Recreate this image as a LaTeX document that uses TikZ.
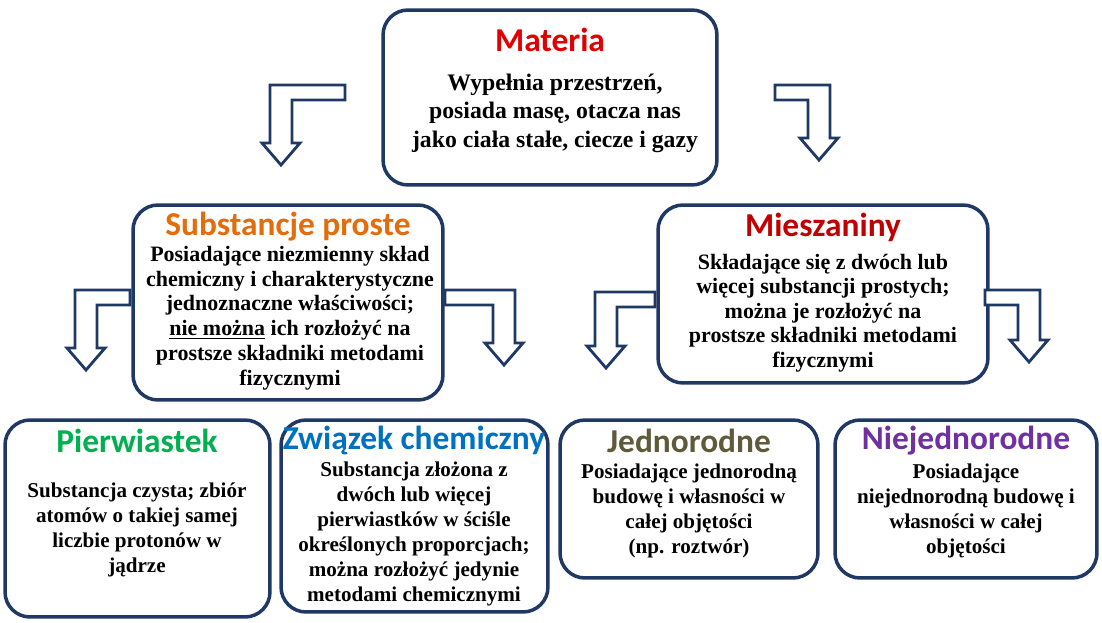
\documentclass[tikz,border=0pt]{standalone}
\usepackage{fontspec}
\setmainfont{Liberation Serif}
\newfontfamily\titlefont{Carlito}
\usetikzlibrary{positioning}
\definecolor{frame}{HTML}{1F3864}
\definecolor{cmat}{HTML}{E00000}
\definecolor{csub}{HTML}{E46C0A}
\definecolor{cmie}{HTML}{C00000}
\definecolor{cpie}{HTML}{00B050}
\definecolor{czwi}{HTML}{0070C0}
\definecolor{cjed}{HTML}{5F5A3A}
\definecolor{cnie}{HTML}{7030A0}
% hollow bent arrow: start x, corner x, top y, tip y, direction (1 left, -1 right)
\newcommand\hollowarrow[5]{%
  \draw[frame, line width=1.6pt, fill=white, line join=miter]
    (#1,#3) -- (#2,#3) -- (#2,{#4-22}) -- ({#2-8*#5},{#4-22}) -- ({#2+11*#5},#4)
    -- ({#2+30*#5},{#4-22}) -- ({#2+22*#5},{#4-22}) -- ({#2+22*#5},{#3+15}) -- (#1,{#3+15}) -- cycle;}
\begin{document}
\begin{tikzpicture}[x=0.02cm, y=-0.02cm,
  box/.style={draw=frame, line width=2pt, rounded corners=0.5cm, fill=white},
  title/.style={font=\titlefont\bfseries\fontsize{19}{21}\selectfont},
  bigtext/.style={align=center, font=\bfseries\fontsize{13.5}{16.2}\selectfont},
  smalltext/.style={align=center, font=\bfseries\fontsize{12}{14.2}\selectfont}]
\useasboundingbox (0,0) rectangle (1102,622);

% Boxes
\node[box, minimum width=6.68cm, minimum height=3.5cm] (materia) at (550,97.5) {};
\node[box, minimum width=6.2cm, minimum height=3.9cm] (proste) at (288,302.5) {};
\node[box, minimum width=6.6cm, minimum height=3.56cm] (miesz) at (823,294) {};
\node[box, minimum width=5.3cm, minimum height=3.94cm] (pierw) at (137.5,518.5) {};
\node[box, minimum width=5.34cm, minimum height=3.84cm] (zwiaz) at (414.5,516) {};
\node[box, minimum width=5.16cm, minimum height=3.16cm] (jedno) at (689,499) {};
\node[box, minimum width=5.24cm, minimum height=3.16cm] (niejed) at (966,499) {};

% Arrows
\hollowarrow{345}{270}{85}{165}{1}
\hollowarrow{775}{830}{85}{160}{-1}
\hollowarrow{130}{75}{290}{370}{1}
\hollowarrow{445}{515}{290}{365}{-1}
\hollowarrow{655}{595}{292}{368}{1}
\hollowarrow{985}{1040}{290}{362}{-1}

% Titles
\node[title, cmat] (tmat) at (550,40) {Materia};
\node[title, csub] (tsub) at (288,227) {Substancje proste};
\node[title, cmie] (tmie) at (823,227) {Mieszaniny};
\node[title, cpie] (tpie) at (137,441) {Pierwiastek};
\node[title, czwi] (tzwi) at (414,441) {Związek chemiczny};
\node[title, cjed] (tjed) at (689,441) {Jednorodne};
\node[title, cnie] (tnie) at (966,441) {Niejednorodne};

% Texts
\node[bigtext] (xmat) at (555,113) {Wypełnia przestrzeń,\\posiada masę, otacza nas\\jako ciała stałe, ciecze i gazy};
\node[bigtext, font=\bfseries\fontsize{12.5}{14.1}\selectfont] (xsub) at (290,318) {Posiadające niezmienny skład\\chemiczny i charakterystyczne\\jednoznaczne właściwości;\\\underline{nie można} ich rozłożyć na\\prostsze składniki metodami\\fizycznymi};
\node[smalltext, font=\bfseries\fontsize{12.5}{13.9}\selectfont] (xmie) at (823,313) {Składające się z dwóch lub\\więcej substancji prostych;\\można je rozłożyć na\\prostsze składniki metodami\\fizycznymi};
\node[smalltext] (xpie) at (137,530) {Substancja czysta; zbiór\\atomów o takiej samej\\liczbie protonów w\\jądrze};
\node[smalltext] (xzwi) at (414,534) {Substancja złożona z\\dwóch lub więcej\\pierwiastków w ściśle\\określonych proporcjach;\\można rozłożyć jedynie\\metodami chemicznymi};
\node[smalltext] (xjed) at (689,511) {Posiadające jednorodną\\budowę i własności w\\całej objętości\\(np. roztwór)};
\node[smalltext] (xnie) at (966,511) {Posiadające\\niejednorodną budowę i\\własności w całej\\objętości};
\end{tikzpicture}
\end{document}
